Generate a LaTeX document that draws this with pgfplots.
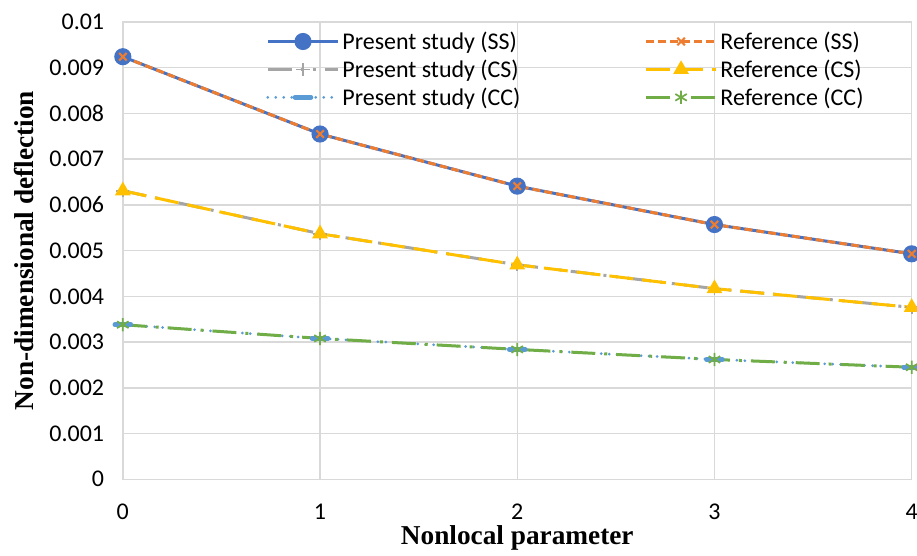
\documentclass[border=0pt]{standalone}
\usepackage{pgfplots}
\pgfplotsset{compat=1.18}
\usepackage{fontspec}
\setmainfont{Carlito}
\newfontfamily\tnr{Liberation Serif}
\definecolor{cblue}{HTML}{4472C4}
\definecolor{corange}{HTML}{ED7D31}
\definecolor{cgray}{HTML}{A5A5A5}
\definecolor{cgold}{HTML}{FFC000}
\definecolor{clblue}{HTML}{5B9BD5}
\definecolor{cgreen}{HTML}{70AD47}
\definecolor{cgrid}{HTML}{D9D9D9}
\begin{document}
\begin{tikzpicture}
\begin{axis}[
  scale only axis,
  at={(0,0)}, anchor=south west,
  width=592.5pt, height=343.5pt,
  xmin=0, xmax=4, ymin=0, ymax=0.01,
  xtick={0,1,2,3,4},
  ytick={0,0.001,0.002,0.003,0.004,0.005,0.006,0.007,0.008,0.009,0.01},
  scaled y ticks=false,
  yticklabel style={/pgf/number format/fixed, /pgf/number format/precision=3},
  /pgf/number format/assume math mode=true,
  ticklabel style={font=\fontsize{18pt}{21pt}\selectfont},
  yticklabel style={xshift=-10.5pt},
  xticklabel style={inner sep=0pt, yshift=-18.5pt},
  major tick length=0pt,
  grid=major,
  grid style={cgrid, line width=1.1pt},
  axis line style={cgrid, line width=1.1pt},
  xlabel={\tnr\bfseries Nonlocal parameter},
  ylabel={\tnr\bfseries Non-dimensional deflection},
  label style={font=\fontsize{20.5pt}{23pt}\selectfont},
  xlabel style={at={(axis description cs:0.5,0)}, anchor=base, inner sep=0pt, yshift=-48.75pt},
  ylabel style={at={(axis description cs:-0.1253,0.5)}, anchor=center, rotate=0},
  clip=false,
  legend columns=2,
  legend cell align=left,
  legend style={draw=none, fill=none, inner sep=0pt,
    at={(axis description cs:0.1815,0.985)}, anchor=north west,
    font=\fontsize{18pt}{21pt}\selectfont,
    row sep=2.3pt,
    /tikz/every even column/.append style={column sep=91pt}},
  legend image code/.code={\draw[mark repeat=2,mark phase=2] plot coordinates {(0cm,0cm)(0.93cm,0cm)(1.86cm,0cm)};},
]
\addplot[cblue, line width=2.25pt, mark=*, mark size=5.3pt, mark options={solid}]
  coordinates {(0,0.00924)(1,0.00755)(2,0.00641)(3,0.00557)(4,0.00493)};
\addlegendentry{Present study (SS)}
\addplot[corange, line width=2.25pt, dash pattern=on 6pt off 3pt, mark=x, mark size=4pt, mark options={solid, line width=1.6pt}]
  coordinates {(0,0.00924)(1,0.00755)(2,0.00641)(3,0.00557)(4,0.00493)};
\addlegendentry{Reference (SS)}
\addplot[cgray, line width=2.25pt, dash pattern=on 18pt off 6.75pt on 2.25pt off 6.75pt on 2.25pt off 6.75pt, mark=+, mark size=5pt, mark options={solid, line width=1.3pt}]
  coordinates {(0,0.00631)(1,0.00537)(2,0.00469)(3,0.00417)(4,0.00376)};
\addlegendentry{Present study (CS)}
\addplot[cgold, line width=2.25pt, dash pattern=on 18pt off 6.75pt, mark=triangle*, mark size=4.6pt, mark options={solid}]
  coordinates {(0,0.00631)(1,0.00537)(2,0.00469)(3,0.00417)(4,0.00376)};
\addlegendentry{Reference (CS)}
\addplot[clblue, line width=2.25pt, line cap=round, dash pattern=on 0pt off 6pt, mark=-, mark size=6pt, mark options={solid, line width=3.5pt}]
  coordinates {(0,0.00338)(1,0.00308)(2,0.00284)(3,0.00262)(4,0.00245)};
\addlegendentry{Present study (CC)}
\addplot[cgreen, line width=2.25pt, dash pattern=on 18pt off 6.75pt on 2.25pt off 6.75pt, mark=asterisk, mark size=5pt, mark options={solid, line width=1.3pt}]
  coordinates {(0,0.00338)(1,0.00308)(2,0.00284)(3,0.00262)(4,0.00245)};
\addlegendentry{Reference (CC)}
\end{axis}
\pgfresetboundingbox
\path[use as bounding box] (-92.25pt,-57pt) rectangle (596.5pt,360pt);
\end{tikzpicture}
\end{document}
